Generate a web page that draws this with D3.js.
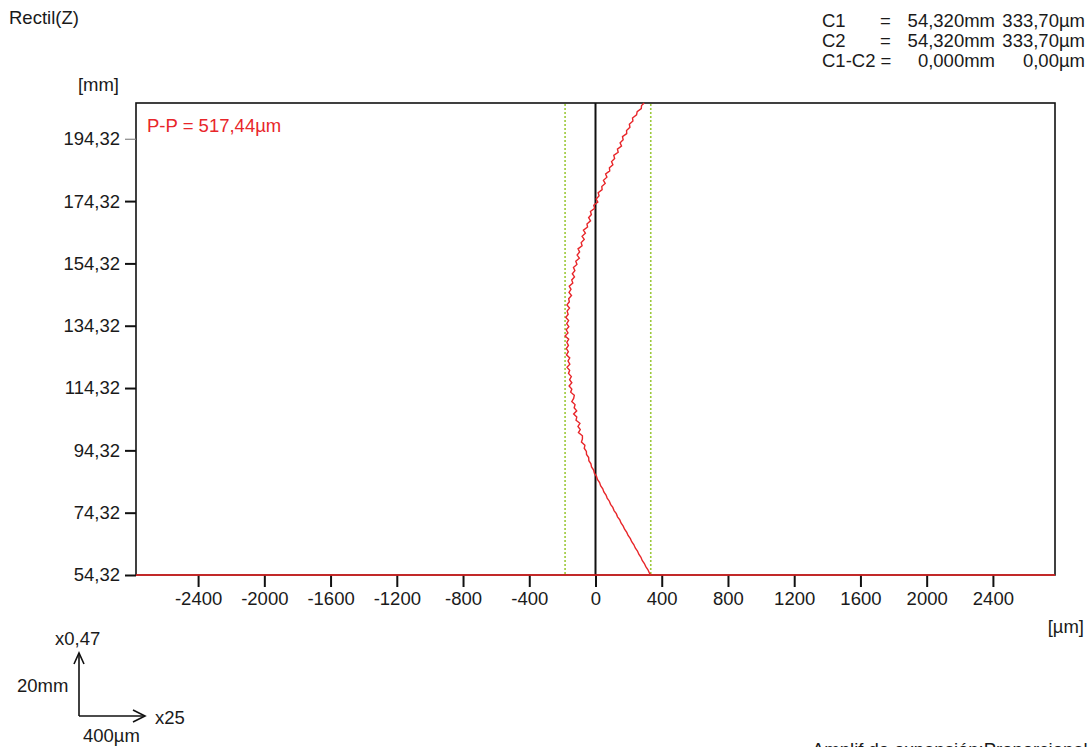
<!DOCTYPE html>
<html>
<head>
<meta charset="utf-8">
<script src="https://cdn.jsdelivr.net/npm/d3@7"></script>
<style>
  html, body { margin: 0; padding: 0; background: #fff; }
  svg { display: block; }
  text { font-family: "Liberation Sans", Arial, sans-serif; font-size: 18.5px; fill: #1a1a1a; }
</style>
</head>
<body>
<svg id="chart" width="1092" height="747"></svg>
<script>
// Straightness profile along Z: position [mm] and deviation [µm]
const zPos = [54.32,55,56,57,58,59,60,61,62,63,64,65,66,67,68,69,70,71,72,73,74,75,76,77,78,79,80,81,82,83,84,85,86,87,88,89,90,
  91,92,93,94,95,96,97,98,99,100,101,102,103,104,105,106,107,108,109,110,111,112,113,114,115,116,117,118,119,120,
  121,122,123,124,125,126,127,128,129,130,131,132,133,134,135,136,137,138,139,140,141,142,143,144,145,146,147,148,149,150,
  151,152,153,154,155,156,157,158,159,160,161,162,163,164,165,166,167,168,169,170,171,172,173,174,175,176,177,178,179,180,
  181,182,183,184,185,186,187,188,189,190,191,192,193,194,195,196,197,198,199,200,201,202,203,204,205,205.8];
const deviation = [333.7,325.1,316.8,303.9,295.2,282.1,274.4,261.6,253.5,240.2,231.9,218.7,210.6,197.0,188.9,175.6,167.4,
  154.2,146.8,133.1,125.7,112.0,104.6,91.1,83.8,70.5,63.6,50.4,43.9,30.8,24.7,11.6,5.9,-6.8,-11.2,-24.0,-27.6,
  -40.1,-41.3,-54.2,-55.1,-68.0,-64.0,-85.0,-79.0,-79.0,-103.0,-92.0,-106.0,-94.0,-117.5,-113.0,-132.0,-113.5,-129.0,-123.5,-143.0,
  -132.0,-128.0,-150.0,-143.0,-159.5,-143.0,-156.5,-146.0,-163.0,-156.0,
  -172.0,-155.0,-166.0,-155.5,-175.5,-164.0,-176.0,-163.5,-173.0,-162.0,-183.74,-166.0,-177.0,-161.0,-174.0,-162.5,-179.0,-165.0,-171.5,-157.0,
  -172.5,-158.0,-162.0,-145.0,-160.0,-148.0,-158.5,-137.0,-143.5,-127.0,
  -140.0,-124.5,-133.0,-112.0,-119.0,-97.5,-111.0,-96.0,-105.5,-81.0,-86.5,-68.0,-81.0,-61.0,-73.0,-48.0,-51.5,-30.0,-41.5,-25.0,
  -30.5,-5.0,-10.5,14.0,4.0,21.5,16.0,40.0,38.0,58.5,
  48.0,69.0,61.0,86.0,84.0,105.0,97.0,115.5,110.5,137.0,132.5,157.0,148.5,167.0,163.0,188.5,187.5,208.0,204.5,226.0,
  223.5,248.0,251.7,276.4,278.0,294.0];

// Peak-to-peak limits of the profile [µm]
const limitValues = [-183.74, 333.70];

// Axis ticks
const xTicks = [-2400,-2000,-1600,-1200,-800,-400,0,400,800,1200,1600,2000,2400];
const yTicks = [54.32,74.32,94.32,114.32,134.32,154.32,174.32,194.32];
const xDomain = [-2775, 2775];
const yDomain = [54.32, 205.8];

// Header texts: label, equals sign, position, deviation
const title = "Rectil(Z)";
const cursorRows = [
  ["C1", "=", "54,320mm", "333,70µm"],
  ["C2", "=", "54,320mm", "333,70µm"],
  ["C1-C2 =", "", "0,000mm", "0,00µm"]
];
const ppLabel = "P-P = 517,44µm";
const footer = "Amplif de expansión:Proporcional";

const svg = d3.select("#chart");
const plotLeft = 136, plotRight = 1055, plotTop = 103, plotBottom = 575;
const fontSize = "18.5px";

const x = d3.scaleLinear().domain(xDomain).range([plotLeft, plotRight]);
const y = d3.scaleLinear().domain(yDomain).range([plotBottom, plotTop]);
const fmtComma = v => v.toFixed(2).replace(".", ",");

// Frame
svg.append("rect")
  .attr("x", plotLeft).attr("y", plotTop)
  .attr("width", plotRight - plotLeft).attr("height", plotBottom - plotTop)
  .attr("fill", "none").attr("stroke", "#111").attr("stroke-width", 1.6);

// Y axis
const yAxis = d3.axisLeft(y).tickValues(yTicks).tickSize(11).tickPadding(5).tickFormat(fmtComma);
const gy = svg.append("g").attr("transform", `translate(${plotLeft},0)`).call(yAxis);
gy.select(".domain").remove();
gy.selectAll(".tick line").attr("stroke", "#111").attr("stroke-width", 2);
gy.selectAll(".tick").filter(d => d === 194.32).select("line").attr("stroke", "#888").attr("stroke-width", 1.2);
gy.selectAll(".tick text").style("font-size", fontSize).attr("fill", "#1a1a1a")
  .style("font-family", "'Liberation Sans', Arial, sans-serif");

// X axis
const xAxis = d3.axisBottom(x).tickValues(xTicks).tickSize(12).tickPadding(5).tickFormat(d => String(d));
const gx = svg.append("g").attr("transform", `translate(0,${plotBottom})`).call(xAxis);
gx.select(".domain").remove();
gx.selectAll(".tick line").attr("stroke", "#111").attr("stroke-width", 2);
gx.selectAll(".tick text").style("font-size", fontSize).attr("fill", "#1a1a1a")
  .style("font-family", "'Liberation Sans', Arial, sans-serif");

// Zero reference line
svg.append("line")
  .attr("x1", x(0)).attr("x2", x(0)).attr("y1", plotTop).attr("y2", plotBottom)
  .attr("stroke", "#111").attr("stroke-width", 2);

// Peak-to-peak limit lines
svg.selectAll(".limit").data(limitValues).enter().append("line")
  .attr("class", "limit")
  .attr("x1", d => x(d)).attr("x2", d => x(d)).attr("y1", plotTop + 1).attr("y2", plotBottom)
  .attr("stroke", "#9cc93a").attr("stroke-width", 1.6).attr("stroke-dasharray", "2,2");

// Red baseline at the lower edge
svg.append("line")
  .attr("x1", plotLeft).attr("x2", plotRight).attr("y1", plotBottom).attr("y2", plotBottom)
  .attr("stroke", "#ee2222").attr("stroke-width", 1.6);

// Profile
const profile = zPos.map((z, i) => [deviation[i], z]);
svg.append("path")
  .datum(profile)
  .attr("fill", "none").attr("stroke", "#e8262a").attr("stroke-width", 1.4)
  .attr("d", d3.line().x(d => x(d[0])).y(d => y(d[1])));

// Texts
svg.append("text").attr("x", 9).attr("y", 24).text(title);
svg.append("text").attr("x", 119).attr("y", 91).attr("text-anchor", "end").text("[mm]");
svg.append("text").attr("x", 147).attr("y", 132).style("fill", "#e8262a").text(ppLabel);
svg.append("text").attr("x", 1084).attr("y", 633).attr("text-anchor", "end").text("[µm]");

const rowY = [27, 47, 67];
cursorRows.forEach((r, i) => {
  svg.append("text").attr("x", 822).attr("y", rowY[i]).text(r[0]);
  if (r[1]) svg.append("text").attr("x", 880).attr("y", rowY[i]).text(r[1]);
  svg.append("text").attr("x", 995).attr("y", rowY[i]).attr("text-anchor", "end").text(r[2]);
  svg.append("text").attr("x", 1085).attr("y", rowY[i]).attr("text-anchor", "end").text(r[3]);
});

// Scale indicator
const sc = svg.append("g").attr("stroke", "#111").attr("stroke-width", 1.6).attr("fill", "none");
sc.append("line").attr("x1", 79).attr("y1", 716).attr("x2", 79).attr("y2", 653);
sc.append("polyline").attr("points", "74,664 79,653 84,664");
sc.append("line").attr("x1", 79).attr("y1", 716).attr("x2", 145).attr("y2", 716);
sc.append("polyline").attr("points", "133,710 145,716 133,722");
svg.append("text").attr("x", 55).attr("y", 645).text("x0,47");
svg.append("text").attr("x", 17).attr("y", 692).text("20mm");
svg.append("text").attr("x", 155).attr("y", 724).text("x25");
svg.append("text").attr("x", 83).attr("y", 742).text("400µm");

svg.append("text").attr("x", 812).attr("y", 756).text(footer);
</script>
</body>
</html>
